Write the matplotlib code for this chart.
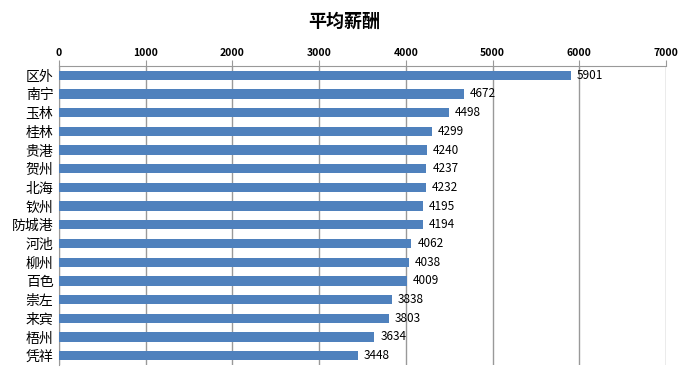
import matplotlib
matplotlib.use("Agg")
import matplotlib.pyplot as plt

plt.rcParams['font.family'] = ['Noto Sans CJK SC', 'DejaVu Sans']

cities = ['区外', '南宁', '玉林', '桂林', '贵港', '贺州', '北海', '钦州',
          '防城港', '河池', '柳州', '百色', '崇左', '来宾', '梧州', '凭祥']
salary = [5901, 4672, 4498, 4299, 4240, 4237, 4232, 4195,
          4194, 4062, 4038, 4009, 3838, 3803, 3634, 3448]
xticks = [0, 1000, 2000, 3000, 4000, 5000, 6000, 7000]

fig = plt.figure(figsize=(6.89, 3.81), dpi=100)
ax = fig.add_axes([0.0856, 0.042, 0.881, 0.785])

y = list(range(len(cities)))
ax.barh(y, salary, height=0.5, color='#4F81BD', zorder=3)
# value labels just right of each bar
for yi, v in zip(y, salary):
    ax.text(v + 70, yi, str(v), va='center', ha='left', fontsize=8.5, zorder=4)

ax.set_xlim(0, 7000)
ax.set_ylim(len(cities) - 0.5, -0.5)
ax.set_yticks(y)
ax.set_yticklabels(cities, fontsize=10)
ax.set_xticks(xticks)
ax.set_xticklabels([str(t) for t in xticks], fontsize=7.5, fontweight='bold')
ax.xaxis.tick_top()
ax.tick_params(axis='x', length=4, color='#999999', pad=2)
ax.tick_params(axis='y', length=0, pad=4)
ax.grid(axis='x', color='#999999', linewidth=1, zorder=0)
for s in ['right', 'bottom']:
    ax.spines[s].set_visible(False)
ax.spines['top'].set_color('#999999')
ax.spines['left'].set_color('#999999')

fig.suptitle('平均薪酬', y=0.97, fontsize=13, fontweight='bold')
fig.savefig('out.png', dpi=100)
